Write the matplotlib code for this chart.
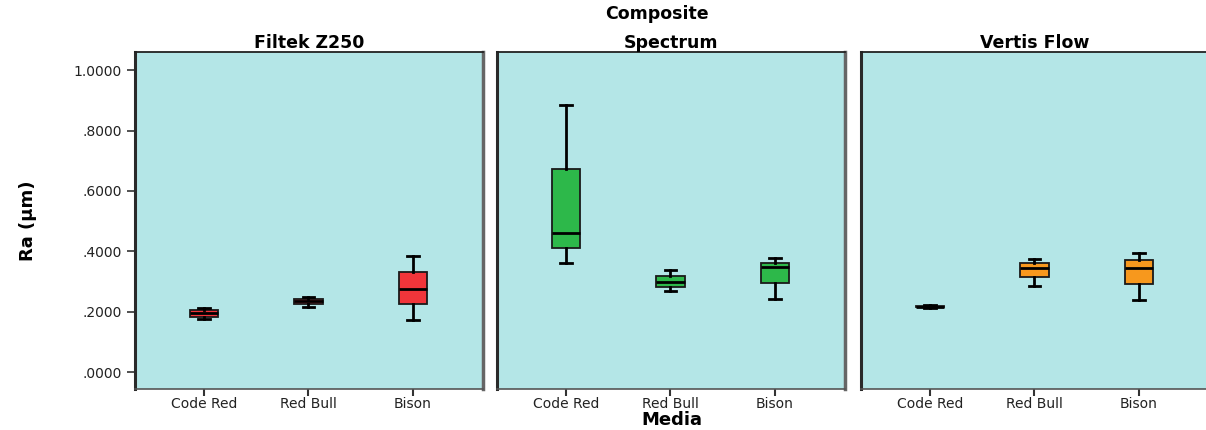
import matplotlib
matplotlib.use("Agg")
import matplotlib.pyplot as plt

plt.rcParams['font.family'] = ['DejaVu Sans']

composites = ["Filtek Z250", "Spectrum", "Vertis Flow"]
media = ["Code Red", "Red Bull", "Bison"]
box_colors = ["#f0353a", "#2db84a", "#f7981d"]

# per composite: [whislo, q1, median, q3, whishi] for each medium
filtek_stats = [
    [0.175, 0.184, 0.195, 0.205, 0.213],
    [0.214, 0.224, 0.234, 0.242, 0.249],
    [0.174, 0.225, 0.275, 0.330, 0.386],
]
spectrum_stats = [
    [0.360, 0.410, 0.459, 0.672, 0.885],
    [0.267, 0.283, 0.298, 0.318, 0.338],
    [0.242, 0.296, 0.348, 0.362, 0.377],
]
vertis_stats = [
    [0.213, 0.215, 0.217, 0.219, 0.222],
    [0.285, 0.315, 0.345, 0.360, 0.375],
    [0.238, 0.291, 0.345, 0.370, 0.396],
]
all_stats = [filtek_stats, spectrum_stats, vertis_stats]

y_ticks = [0.0, 0.2, 0.4, 0.6, 0.8, 1.0]
y_ticklabels = [".0000", ".2000", ".4000", ".6000", ".8000", "1.0000"]

W, H = 1206, 430
fig = plt.figure(figsize=(W / 100, H / 100), dpi=100)

lefts = [135, 497, 861]
pw = 348
top, bottom = 52, 389
bg = "#b4e6e7"

for i, (name, stats) in enumerate(zip(composites, all_stats)):
    ax = fig.add_axes([lefts[i] / W, 1 - bottom / H, pw / W, (bottom - top) / H])
    ax.set_facecolor(bg)
    bxp_stats = []
    for lab, s in zip(media, stats):
        bxp_stats.append(dict(label=lab, whislo=s[0], q1=s[1], med=s[2],
                              q3=s[3], whishi=s[4], fliers=[]))
    ax.bxp(bxp_stats, positions=[1, 2, 3], widths=0.27, patch_artist=True,
           showfliers=False,
           boxprops=dict(facecolor=box_colors[i], edgecolor="#1a1a1a", linewidth=1.3),
           medianprops=dict(color="black", linewidth=2.0),
           whiskerprops=dict(color="black", linewidth=2.0),
           capprops=dict(color="black", linewidth=2.0),
           capwidths=0.11)
    ax.set_xlim(0.34, 3.67)
    ax.set_ylim(-0.056, 1.06)
    ax.set_title(name, fontsize=12.5, fontweight="bold", pad=3)
    ax.tick_params(axis="x", direction="out", length=5, width=1.5,
                   colors="#333333", labelsize=10, pad=1, labelcolor="#222222")
    ax.spines["top"].set_color("#222222")
    ax.spines["top"].set_linewidth(1.3)
    ax.spines["left"].set_color("#2a2a2a")
    ax.spines["left"].set_linewidth(2.2)
    ax.spines["right"].set_color("#666666")
    ax.spines["right"].set_linewidth(2.5)
    ax.spines["bottom"].set_color("#555555")
    ax.spines["bottom"].set_linewidth(1.2)
    if i == 0:
        ax.set_yticks(y_ticks)
        ax.set_yticklabels(y_ticklabels)
        ax.tick_params(axis="y", direction="out", length=6, width=1.2,
                       colors="#333333", labelsize=10, labelcolor="#222222")
        ax.set_ylabel("Ra (µm)", fontsize=13, fontweight="bold", labelpad=26)
    else:
        ax.set_yticks([])

fig.text(657 / W, 1 - 14 / H, "Composite", ha="center", va="center",
         fontsize=12.5, fontweight="bold")
fig.text(672 / W, 1 - 420 / H, "Media", ha="center", va="center",
         fontsize=13, fontweight="bold")

fig.savefig("out.png", dpi=100)
